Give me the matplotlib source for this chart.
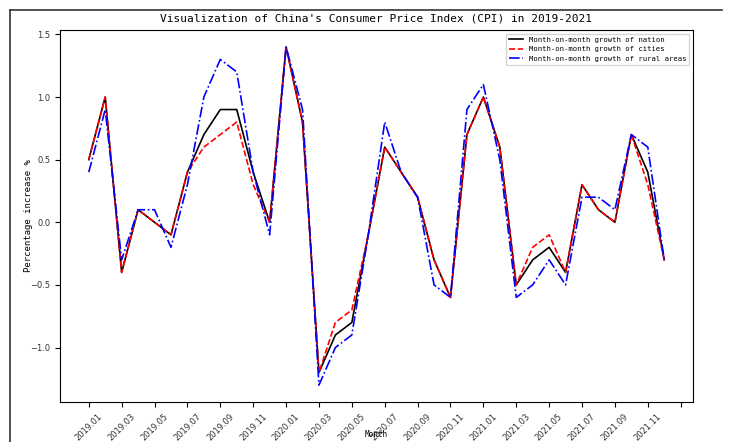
import matplotlib.pyplot as plt
from matplotlib.lines import Line2D

#data (month-on-month CPI growth, %)
MONTHS = ['%d.%02d' % (y, m) for y in (2019, 2020, 2021) for m in range(1, 13)]
NATION = [0.5, 1.0, -0.4, 0.1, 0.0, -0.1, 0.4, 0.7, 0.9, 0.9, 0.4, 0.0,
          1.4, 0.8, -1.2, -0.9, -0.8, -0.1, 0.6, 0.4, 0.2, -0.3, -0.6, 0.7,
          1.0, 0.6, -0.5, -0.3, -0.2, -0.4, 0.3, 0.1, 0.0, 0.7, 0.4, -0.3]
CITIES = [0.5, 1.0, -0.4, 0.1, 0.0, -0.1, 0.4, 0.6, 0.7, 0.8, 0.3, 0.0,
          1.4, 0.8, -1.2, -0.8, -0.7, -0.1, 0.6, 0.4, 0.2, -0.3, -0.6, 0.7,
          1.0, 0.6, -0.5, -0.2, -0.1, -0.4, 0.3, 0.1, 0.0, 0.7, 0.3, -0.3]
RURAL = [0.4, 0.9, -0.3, 0.1, 0.1, -0.2, 0.3, 1.0, 1.3, 1.2, 0.4, -0.1,
         1.4, 0.9, -1.3, -1.0, -0.9, -0.1, 0.8, 0.4, 0.2, -0.5, -0.6, 0.9,
         1.1, 0.5, -0.6, -0.5, -0.3, -0.5, 0.2, 0.2, 0.1, 0.7, 0.6, -0.3]

MONO = 'DejaVu Sans Mono'


#draw the three growth lines
def draw_lines(ax):
    x = range(len(MONTHS))
    ax.plot(x, NATION, color='black', linestyle='-', linewidth=1.2,
            label='Month-on-month growth of nation')
    ax.plot(x, CITIES, color='red', linestyle='--', linewidth=1.2,
            label='Month-on-month growth of cities')
    ax.plot(x, RURAL, color='blue', linestyle='-.', linewidth=1.2,
            label='Month-on-month growth of rural areas')


#labels, ticks, legend
def config_plot(ax):
    ticks = list(range(0, len(MONTHS) + 1, 2))
    labels = MONTHS[::2] + ['']
    ax.set_xticks(ticks)
    ax.set_xticklabels(labels, rotation=45, fontsize=6, color='#333333')
    ax.tick_params(axis='y', labelsize=6, labelcolor='#333333')
    ax.set_yticks([-1.0, -0.5, 0.0, 0.5, 1.0, 1.5])
    ax.set_title("Visualization of China's Consumer Price Index (CPI) in 2019-2021",
                 family=MONO, fontsize=8, pad=6)
    ax.set_xlabel('Month', family=MONO, fontsize=5.5)
    ax.xaxis.set_label_coords(0.5, -0.075)
    ax.set_ylabel('Percentage increase %', family=MONO, fontsize=6.5)
    ax.yaxis.set_label_coords(-0.043, 0.5)
    ax.legend(loc='upper right', prop={'family': MONO, 'size': 5.2})


if __name__ == '__main__':
    fig = plt.figure(figsize=(7.33, 4.42), dpi=100)
    ax = fig.add_axes([60 / 733, 1 - 402 / 442, 633 / 733, 372 / 442])
    draw_lines(ax)
    config_plot(ax)
    #screenshot frame on the left and top edge
    fig.add_artist(Line2D([10 / 733, 10 / 733], [0, 1 - 10 / 442],
                          color='#333333', linewidth=1.2))
    fig.add_artist(Line2D([10 / 733, 722 / 733], [1 - 10 / 442, 1 - 10 / 442],
                          color='#333333', linewidth=1.2))
    fig.savefig('out.png', dpi=100)
